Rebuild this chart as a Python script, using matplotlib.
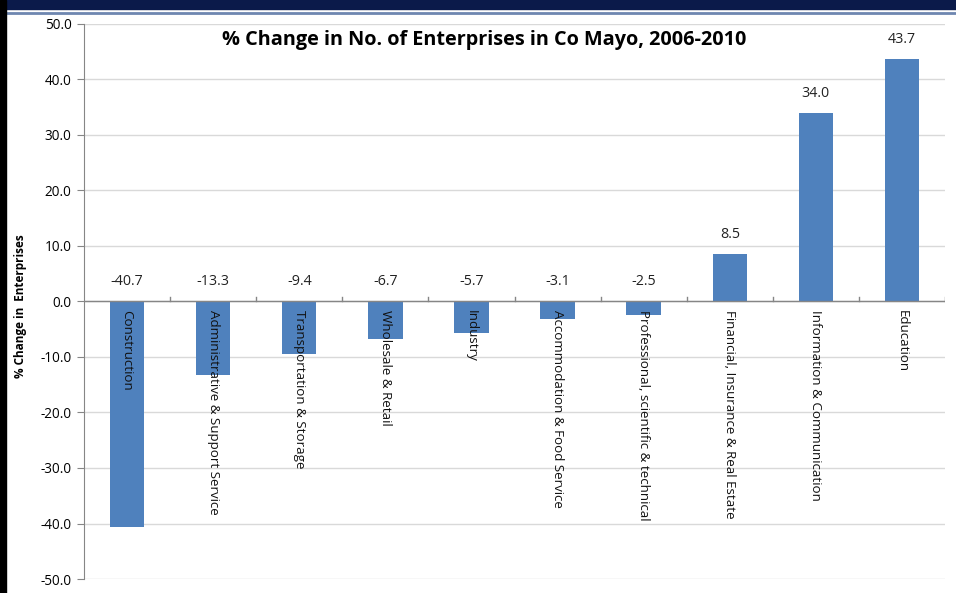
import matplotlib
matplotlib.use("Agg")
import matplotlib.pyplot as plt
from matplotlib.patches import Rectangle
from matplotlib.lines import Line2D

categories = ["Construction", "Administrative & Support Service", "Transportation & Storage",
              "Wholesale & Retail", "Industry", "Accommodation & Food Service",
              "Professional, scientific & technical", "Financial, Insurance & Real Estate",
              "Information & Communication", "Education"]
values = [-40.7, -13.3, -9.4, -6.7, -5.7, -3.1, -2.5, 8.5, 34.0, 43.7]
yticks = [50, 40, 30, 20, 10, 0, -10, -20, -30, -40, -50]

plt.rcParams['font.family'] = ['Open Sans', 'DejaVu Sans']

fig = plt.figure(figsize=(9.56, 5.93), dpi=100)
ax = fig.add_axes([0.0879, 0.0236, 0.9006, 0.936])

x = list(range(len(categories)))
ax.bar(x, values, width=0.4, color="#4F81BD", zorder=3)
ax.set_xlim(-0.5, len(categories) - 0.5)
ax.set_ylim(-50, 50)
ax.set_yticks(yticks)
ax.set_yticklabels([f"{v:.1f}" for v in yticks], fontsize=9.8)
ax.yaxis.grid(True, color="#D9D9D9", linewidth=1, zorder=0)
ax.tick_params(axis="y", length=5, color="#868686", pad=4)
ax.set_xticks([])
for s in ["top", "right", "bottom"]:
    ax.spines[s].set_visible(False)
ax.spines["left"].set_color("#868686")

# x axis at zero with tick marks between categories
ax.axhline(0, color="#868686", linewidth=1, zorder=4)
for b in range(1, len(categories) + 1):
    ax.plot([b - 0.5, b - 0.5], [0, 0.8], color="#868686", linewidth=1, zorder=4)

for xi, v, c in zip(x, values, categories):
    ly = v if v > 0 else 0
    ax.text(xi, ly + 2.2, f"{v:.1f}", ha="center", va="bottom", fontsize=10.3, color="#222222")
    ax.text(xi, -1.5, c, rotation=-90, ha="center", va="top", fontsize=9.6, color="#111111",
            zorder=5)

ax.set_title("% Change in No. of Enterprises in Co Mayo, 2006-2010", fontsize=14.3,
             fontweight="bold", y=0.962, x=0.465, pad=0)
fig.text(0.021, 0.484, "% Change in  Enterprises", rotation=90, ha="center", va="center",
         fontsize=8.5, fontweight="bold")

# slide frame decorations
fig.patches.append(Rectangle((0, 1 - 9 / 593), 1, 9 / 593, transform=fig.transFigure,
                             color="#0B1A4A", zorder=10))
fig.lines.append(Line2D([6 / 956, 1], [1 - 13 / 593, 1 - 13 / 593], transform=fig.transFigure,
                        color="#6E86B0", linewidth=2))
fig.patches.append(Rectangle((0, 0), 6 / 956, 1, transform=fig.transFigure,
                             color="black", zorder=10))

fig.savefig("out.png", dpi=100)
